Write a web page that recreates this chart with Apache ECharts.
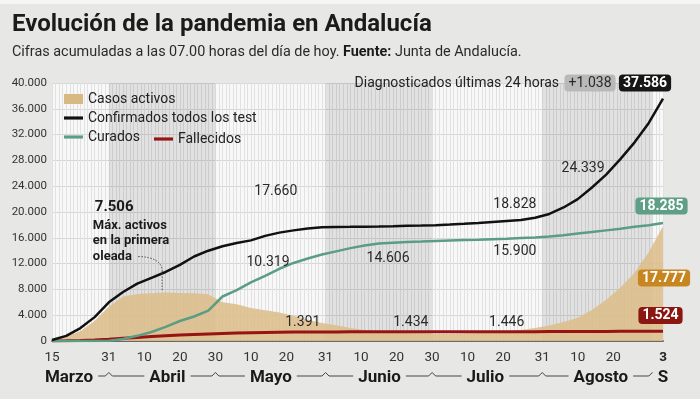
<!DOCTYPE html>
<html><head><meta charset="utf-8">
<script src="https://cdn.jsdelivr.net/npm/echarts@6/dist/echarts.min.js"></script>
<style>html,body{margin:0;padding:0;background:#e7e8e6;}#c{width:700px;height:399px;}</style>
</head><body><div id="c"></div>
<script>
// Day index: 0 = 15 March 2020, 172 = 3 September 2020
const days = [0,4,8,12,16,20,24,28,32,36,40,44,48,52,56,60,64,68,72,76,80,84,88,92,96,100,104,108,112,116,120,124,128,132,136,140,144,148,152,156,160,164,168,172];
const casosActivos = [150,700,1500,3100,5300,6900,7300,7420,7506,7450,7400,7250,6000,5700,5100,4750,4400,3900,3300,2800,2450,2000,1700,1500,1350,1250,1150,1100,1100,1150,1250,1350,1500,1700,2000,2400,2950,3600,4800,6400,8300,10600,13800,17777];
const confirmados = [150,800,2000,3700,6000,7600,8900,9800,10700,11800,13100,14000,14700,15200,15600,16300,16800,17150,17450,17620,17680,17700,17730,17760,17800,17850,17900,17960,18050,18170,18300,18450,18600,18750,19100,19700,20700,22000,23800,25800,28200,30800,33800,37586];
const curados = [0,0,0,0,50,300,800,1400,2200,3100,3800,4700,6900,7900,9100,10100,11200,12100,12800,13400,13900,14400,14800,15100,15250,15350,15420,15500,15580,15650,15700,15780,15850,15950,16050,16200,16400,16650,16900,17150,17400,17700,17950,18285];
const fallecidos = [10,30,80,160,280,420,560,700,830,930,1020,1100,1170,1230,1280,1320,1360,1385,1395,1404,1410,1415,1420,1425,1430,1432,1434,1436,1438,1440,1442,1444,1446,1448,1450,1454,1460,1467,1476,1486,1496,1506,1515,1524];

const tickDays = [0,16,26,36,46,56,66,77,87,97,107,117,127,138,148,158,172];
const tickLabels = ['15','31','10','20','30','10','20','31','10','20','30','10','20','31','10','20','3'];
const monthDays = [4.8,32.5,61.6,92.2,122,154.5,172];
const monthLabels = ['Marzo','Abril','Mayo','Junio','Julio','Agosto','S'];
const monthEnds = [16,46,77,107,138,169];
const shadedMonths = [[16,46],[77,107],[138,169]];
const yMax = 40000, yStep = 4000;

const FONT = 'Roboto, "Noto Sans", sans-serif';
const BG = '#e7e8e6';
const fmt = v => String(v).replace(/\B(?=(\d{3})+(?!\d))/g, '.');
const pair = arr => days.map((d, i) => [d, arr[i]]);
const LINE_ICON = 'path://M0,0 L18,0 L18,3 L0,3 Z';

function note(text, coord, opts) {
  return {
    coord: coord, symbol: 'circle', symbolSize: 0,
    itemStyle: {color: 'rgba(0,0,0,0)'},
    label: Object.assign({show: true, position: 'inside', formatter: text,
      fontSize: 14, color: '#2a2a2a', fontFamily: FONT}, (opts || {}))
  };
}

const chart = echarts.init(document.getElementById('c'), null, {renderer: 'canvas'});
const legendText = {fontSize: 14, color: '#222', fontFamily: FONT};
const option = {
  backgroundColor: BG,
  animation: false,
  textStyle: {fontFamily: FONT},
  grid: {left: 52, right: 37, top: 83, bottom: 58, show: true, backgroundColor: '#f8f8f8', borderWidth: 0},
  legend: [
    {data: [{name: 'Casos activos', icon: 'rect'},
            {name: 'Confirmados todos los test', icon: LINE_ICON},
            {name: 'Curados', icon: LINE_ICON}],
     orient: 'vertical', left: 59, top: 87, itemWidth: 19, itemHeight: 10, itemGap: 5,
     symbolKeepAspect: true, selectedMode: false, textStyle: legendText},
    {data: [{name: 'Fallecidos', icon: LINE_ICON}], orient: 'vertical', left: 149, top: 127,
     itemWidth: 19, itemHeight: 10, symbolKeepAspect: true, selectedMode: false, textStyle: legendText}
  ],
  xAxis: [
    {type: 'value', min: 0, max: 172, position: 'bottom',
     axisLine: {show: true, onZero: false, lineStyle: {color: '#6a6a6a', width: 2}},
     axisTick: {show: false}, splitLine: {show: false},
     axisLabel: {customValues: tickDays, margin: 10, fontSize: 13.5, color: '#333', fontFamily: FONT,
       formatter: v => { const t = tickLabels[tickDays.indexOf(v)]; return v === 172 ? '{b|' + t + '}' : t; },
       rich: {b: {fontWeight: 'bold', fontSize: 13.5, color: '#222', fontFamily: FONT}}}},
    {type: 'value', min: 0, max: 172, position: 'bottom', offset: 22, z: 10,
     axisLine: {show: false}, axisTick: {show: false}, splitLine: {show: false},
     axisLabel: {customValues: monthDays, margin: 6, fontSize: 17, fontWeight: 'bold', color: '#1a1a1a',
       fontFamily: FONT, backgroundColor: BG, padding: [0, 5],
       formatter: v => monthLabels[monthDays.indexOf(v)]}},
    {type: 'value', min: 0, max: 172, interval: 1, show: true,
     axisLine: {show: false}, axisTick: {show: false}, axisLabel: {show: false},
     splitLine: {show: true, lineStyle: {color: '#e1e1e1', width: 1}}}
  ],
  yAxis: {type: 'value', min: 0, max: yMax, interval: yStep,
    axisLine: {show: false}, axisTick: {show: false},
    axisLabel: {formatter: v => fmt(v), fontSize: 11.5, color: '#333', margin: 5, fontFamily: FONT},
    splitLine: {show: true, lineStyle: {color: '#d6d6d6', width: 1}}},
  series: [
    {name: 'bands', type: 'line', data: [[0, null]], symbol: 'none', z: 1, silent: true,
     markArea: {silent: true, itemStyle: {color: 'rgba(0,0,0,0.09)'},
       data: shadedMonths.map(([a, b]) => [{xAxis: a}, {xAxis: b}])}},
    {name: 'Casos activos', type: 'line', data: pair(casosActivos), symbol: 'none', z: 2,
     lineStyle: {width: 0}, itemStyle: {color: '#d8b982'},
     areaStyle: {color: '#dcbf8c', opacity: 0.9},
     markPoint: {data: [
       note('7.506', [17.5, 20800], {fontWeight: 'bold', fontSize: 15, color: '#1a1a1a'}),
       note('Máx. activos\nen la primera\noleada', [11.5, 15470],
         {position: 'right', distance: 0, fontWeight: 'bold', fontSize: 13, lineHeight: 15.5, color: '#1a1a1a'})
     ]}},
    {name: 'Fallecidos', type: 'line', data: pair(fallecidos), symbol: 'none', z: 3,
     lineStyle: {width: 3, color: '#981414'}, itemStyle: {color: '#981414'},
     markPoint: {data: [note('1.391', [70.6, 2810]), note('1.434', [101, 2810]), note('1.446', [128, 2810])]}},
    {name: 'Curados', type: 'line', data: pair(curados), symbol: 'none', z: 4,
     lineStyle: {width: 2.5, color: '#5b9d84'}, itemStyle: {color: '#5b9d84'},
     markPoint: {data: [note('10.319', [60.8, 12190]), note('14.606', [94.6, 12800]), note('15.900', [130.3, 13900])]}},
    {name: 'Confirmados todos los test', type: 'line', data: pair(confirmados), symbol: 'none', z: 5,
     lineStyle: {width: 2.5, color: '#111'}, itemStyle: {color: '#111'},
     markPoint: {data: [note('17.660', [63, 23125]), note('18.828', [130.3, 21100]), note('24.339', [149.5, 26700])]}}
  ]
};
chart.setOption(option);

// overlays computed through the chart's scales
const px = (d, v) => chart.convertToPixel({xAxisIndex: 0, yAxisIndex: 0}, [d, v]);
const lineY = px(0, 0)[1] + 35;
const conn = [];
conn.push([px(monthDays[0], 0)[0], lineY]);
monthEnds.forEach(d => { const x = px(d, 0)[0]; conn.push([x - 3.5, lineY], [x, lineY - 3.5], [x + 3.5, lineY]); });
conn.push([px(172, 0)[0], lineY]);
const peak = px(31, 7506);

function badge(text, x, y, bg, color, bold) {
  return {type: 'text', x: x, y: y, z: 100, style: {text: text, align: 'center', verticalAlign: 'middle',
    fontSize: 14, fontWeight: bold ? 'bold' : 'normal', fontFamily: FONT, fill: color,
    backgroundColor: bg, padding: [2, 4, 1, 4], borderRadius: 4}};
}

chart.setOption({graphic: [
  {type: 'rect', shape: {x: 0, y: 0, width: 700, height: 4}, style: {fill: '#f6f6f6'}, z: 0},
  {type: 'text', x: 12, y: 25, z: 100, style: {text: 'Evolución de la pandemia en Andalucía', verticalAlign: 'middle',
    fontSize: 24, fontWeight: 'bold', fontFamily: FONT, fill: '#1b1b1b'}},
  {type: 'text', x: 12, y: 52, z: 100, style: {
    text: '{r|Cifras acumuladas a las 07.00 horas del día de hoy. }{b|Fuente:}{r| Junta de Andalucía.}',
    verticalAlign: 'middle',
    rich: {r: {fontSize: 14.4, fontFamily: FONT, fill: '#2a2a2a', color: '#2a2a2a'},
           b: {fontSize: 14.4, fontFamily: FONT, fontWeight: 'bold', fill: '#1a1a1a', color: '#1a1a1a'}}}},
  {type: 'polyline', z: 1, shape: {points: conn}, style: {stroke: '#444', lineWidth: 1, fill: null}},
  {type: 'bezierCurve', z: 50, shape: {x1: peak[0] - 24, y1: peak[1] - 36, cpx1: peak[0] - 8, cpy1: peak[1] - 36,
     x2: peak[0], y2: peak[1] - 22, cpx2: peak[0], cpy2: peak[1] - 30},
   style: {stroke: '#555', lineWidth: 1, lineDash: [1.5, 1.5], fill: null}},
  {type: 'line', z: 50, shape: {x1: peak[0], y1: peak[1] - 22, x2: peak[0], y2: peak[1] - 2},
   style: {stroke: '#555', lineWidth: 1, lineDash: [1.5, 1.5]}},
  {type: 'text', x: 559, y: 83, z: 100, style: {text: 'Diagnosticados últimas 24 horas', align: 'right',
    verticalAlign: 'middle', fontSize: 14, fontFamily: FONT, fill: '#222'}},
  badge('+1.038', 590, 83, '#b9b9b9', '#2a2a2a', false),
  badge('37.586', 645, 83, '#161616', '#fff', true),
  badge('18.285', 661.5, 206, '#5e9f86', '#fff', true),
  badge('17.777', 664, 278, '#c7861f', '#fff', true),
  badge('1.524', 660.5, 315.5, '#8b1713', '#fff', true)
]});
</script></body></html>
